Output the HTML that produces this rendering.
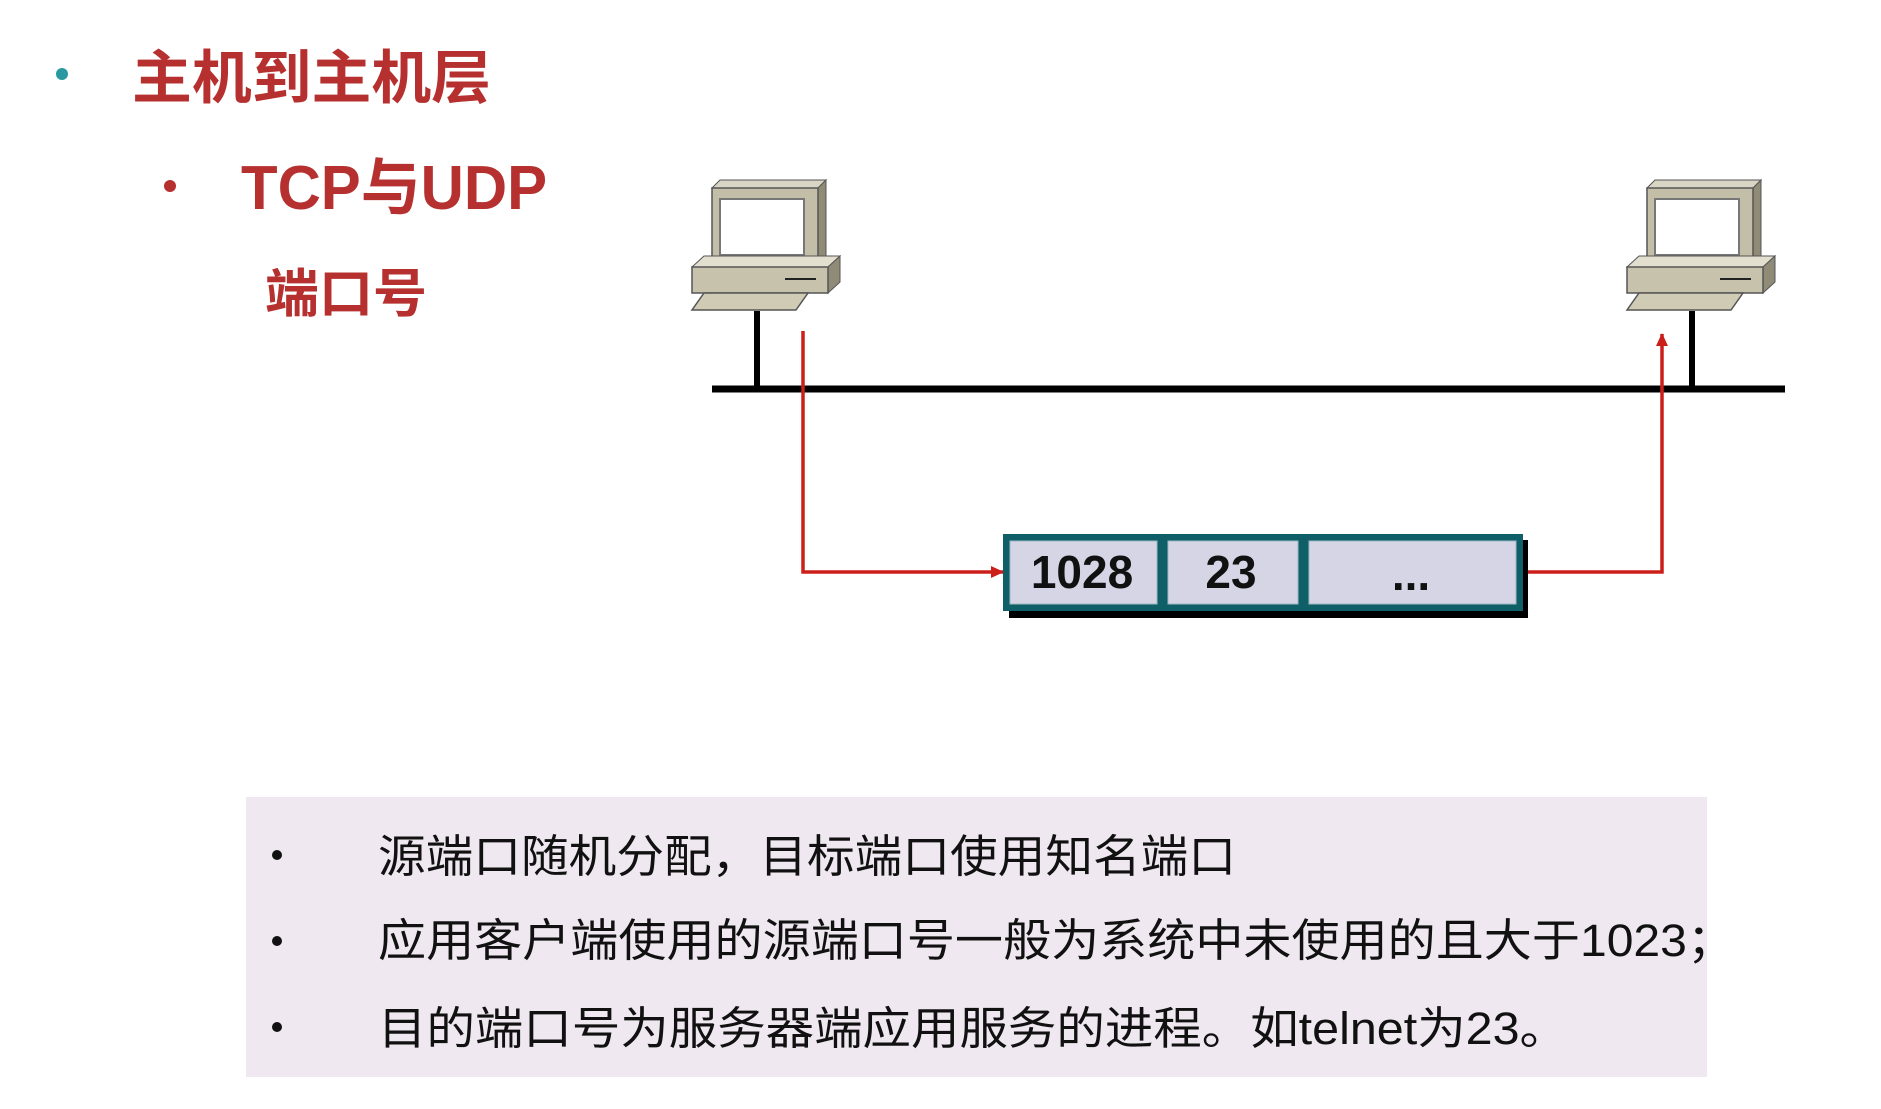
<!DOCTYPE html>
<html><head><meta charset="utf-8"><style>
html,body{margin:0;padding:0;background:#fff;}
svg{display:block;}
</style></head><body>
<svg width="1881" height="1109" viewBox="0 0 1881 1109" xmlns="http://www.w3.org/2000/svg">
<defs>
<marker id="ah" markerWidth="14" markerHeight="14" refX="12" refY="7" orient="auto" markerUnits="userSpaceOnUse">
<path d="M0,1 L13,7 L0,13 z" fill="#cc1f1a"/>
</marker>
<g id="pc">
  <polygon points="712,188 720,180 826,180 818,188" fill="#d8d5c4" stroke="#555" stroke-width="1"/>
  <polygon points="818,188 826,180 826,258 818,265" fill="#8f8b77" stroke="#555" stroke-width="1"/>
  <rect x="712" y="188" width="106" height="77" fill="#c2bea8" stroke="#555" stroke-width="1.5"/>
  <rect x="720" y="199" width="84" height="56" fill="#fff" stroke="#777" stroke-width="2"/>
  <polygon points="692,267 704,256 840,256 828,267" fill="#e2dfcf" stroke="#555" stroke-width="1"/>
  <polygon points="828,267 840,256 840,282 828,293" fill="#8f8b77" stroke="#555" stroke-width="1"/>
  <rect x="692" y="267" width="136" height="26" fill="#c6c2ac" stroke="#555" stroke-width="1.5"/>
  <line x1="785" y1="279" x2="816" y2="279" stroke="#222" stroke-width="2"/>
  <polygon points="704,293 808,293 796,310 692,310" fill="#cfcbb5" stroke="#555" stroke-width="1.5"/>
  <line x1="757" y1="311" x2="757" y2="390" stroke="#000" stroke-width="6"/>
</g>
</defs>

<circle cx="62" cy="74" r="6" fill="#2a98a0"/>
<text x="132" y="98" font-family="'Liberation Sans','Noto Sans CJK SC',sans-serif" font-weight="bold" font-size="58" fill="#b5302e" textLength="359" lengthAdjust="spacingAndGlyphs">主机到主机层</text>
<circle cx="170" cy="186" r="6" fill="#b5302e"/>
<text x="241" y="209" font-family="'Liberation Sans','Noto Sans CJK SC',sans-serif" font-weight="bold" font-size="62" fill="#b5302e" textLength="306" lengthAdjust="spacingAndGlyphs">TCP与UDP</text>
<text x="265" y="312" font-family="'Liberation Sans','Noto Sans CJK SC',sans-serif" font-weight="bold" font-size="52" fill="#b5302e" textLength="162" lengthAdjust="spacingAndGlyphs">端口号</text>

<line x1="712" y1="389" x2="1785" y2="389" stroke="#000" stroke-width="7"/>
<use href="#pc"/>
<use href="#pc" transform="translate(935,0)"/>

<polyline points="803,331 803,572 1003,572" fill="none" stroke="#cc1f1a" stroke-width="3.5" marker-end="url(#ah)"/>
<polyline points="1528,572 1662,572 1662,334" fill="none" stroke="#cc1f1a" stroke-width="3.5" marker-end="url(#ah)"/>

<rect x="1009" y="540" width="519" height="78" fill="#000"/>
<rect x="1003" y="534" width="520" height="77" fill="#0e5f67"/>
<rect x="1010" y="541" width="147" height="63" fill="#d5d5e6" stroke="#9fb8c2" stroke-width="1"/>
<rect x="1168" y="541" width="130" height="63" fill="#d5d5e6" stroke="#9fb8c2" stroke-width="1"/>
<rect x="1309" y="541" width="207" height="63" fill="#d5d5e6" stroke="#9fb8c2" stroke-width="1"/>
<g font-family="'Liberation Sans',sans-serif" font-weight="bold" font-size="46" fill="#111" text-anchor="middle">
<text x="1082" y="588">1028</text>
<text x="1231" y="588">23</text>
<text x="1411" y="590">...</text>
</g>

<rect x="246" y="797" width="1461" height="280" fill="#efe8f0"/>
<g fill="#111">
<circle cx="277" cy="855" r="5"/>
<circle cx="277" cy="941" r="5"/>
<circle cx="277" cy="1027" r="5"/>
</g>
<g font-family="'Liberation Sans','Noto Sans CJK SC',sans-serif" font-size="45" fill="#111">
<text x="378" y="872" textLength="858" lengthAdjust="spacingAndGlyphs">源端口随机分配，目标端口使用知名端口</text>
<text x="378" y="956" textLength="1357" lengthAdjust="spacingAndGlyphs">应用客户端使用的源端口号一般为系统中未使用的且大于1023；</text>
<text x="378" y="1044" textLength="1190" lengthAdjust="spacingAndGlyphs">目的端口号为服务器端应用服务的进程。如telnet为23。</text>
</g>
</svg>
</body></html>
